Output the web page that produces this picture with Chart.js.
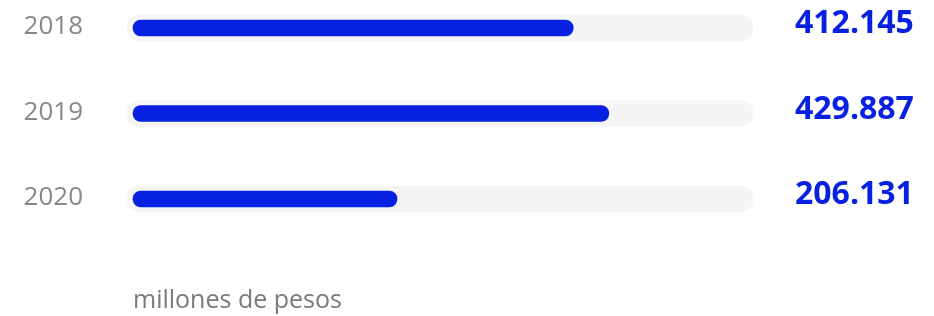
<!DOCTYPE html>
<html>
<head>
<meta charset="utf-8">
<script src="https://cdn.jsdelivr.net/npm/chart.js@4.4.1/dist/chart.umd.min.js"></script>
<style>
  html, body { margin: 0; padding: 0; background: #fff; }
  .chart-box { width: 934px; height: 316px; }
</style>
</head>
<body>
<div class="chart-box"><canvas id="barChart"></canvas></div>
<script>
// BAR CHART
const years = ['2018', '2019', '2020'];
const amounts = ['412.145', '429.887', '206.131'];
const fillPercent = [71.7, 77.5, 43.0];
const trackRange = [-1, 101];

const blue = '#0820e2';
const fontName = "'Open Sans', sans-serif";

const data = {
  labels: years,
  datasets: [{
    label: 'Monto',
    data: fillPercent,
    backgroundColor: blue,
    barThickness: 16,
    borderRadius: 8,
    borderSkipped: false,
    grouped: false,
    clip: false,
  }, {
    label: 'Fondo',
    data: years.map(() => trackRange),
    backgroundColor: '#f5f5f5',
    barThickness: 26,
    borderRadius: 13,
    borderSkipped: false,
    grouped: false,
    clip: false,
  }]
};

// keep the side axes from pushing the chart area in
function fixSide(width) {
  return function(scale) {
    scale.width = width;
    scale.paddingTop = 0;
    scale.paddingBottom = 0;
  };
}

const config = {
  type: 'bar',
  data: data,
  options: {
    indexAxis: 'y',
    responsive: true,
    maintainAspectRatio: false,
    animation: false,
    events: [],
    layout: {
      padding: { top: 28, bottom: 0, left: 0, right: 0 }
    },
    plugins: {
      legend: { display: false },
      tooltip: { enabled: false },
    },
    scales: {
      x: {
        min: 0,
        max: 100,
        grid: { display: false },
        border: { display: false },
        ticks: { display: false },
        title: {
          display: true,
          text: 'millones de pesos',
          align: 'start',
          color: '#7a7a7a',
          font: { family: fontName, size: 25 },
          padding: { top: 79, bottom: 0 }
        }
      },
      y: {
        offset: false,
        grid: { display: false },
        border: { display: false },
        ticks: {
          color: '#888888',
          padding: 42,
          labelOffset: -1,
          font: { family: fontName, size: 26 }
        },
        afterFit: fixSide(133)
      },
      y2: {
        type: 'category',
        labels: amounts,
        position: 'right',
        offset: false,
        grid: { display: false },
        border: { display: false },
        ticks: {
          color: blue,
          padding: 40,
          labelOffset: -4,
          font: { family: fontName, size: 32, weight: 'bold' }
        },
        afterFit: fixSide(187)
      }
    }
  }
};

var barChart = document.getElementById('barChart');
const myBarChart = new Chart(barChart, config);
</script>
</body>
</html>
